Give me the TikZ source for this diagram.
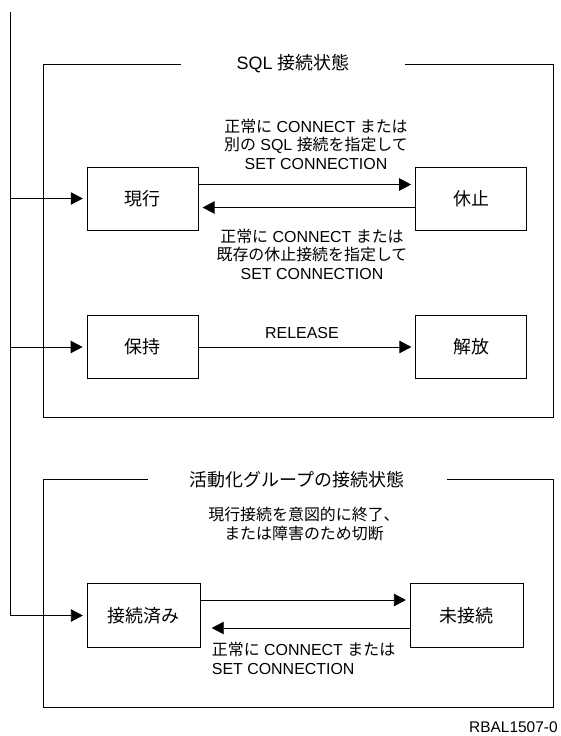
\documentclass[tikz,border=0pt]{standalone}
\usepackage{fontspec}
\setmainfont{Liberation Sans}
\newfontfamily\jfont{Noto Sans CJK JP}
\usetikzlibrary{arrows.meta}
\newcommand{\ja}[1]{{\jfont #1}}

\tikzset{
  statebox/.style={draw, minimum width=111bp, minimum height=63bp, inner sep=0pt,
    font=\fontsize{18}{21}\selectfont\jfont},
  trans/.style={-{Triangle[length=12bp,width=12.5bp]}, shorten >=4bp},
  lbl/.style={font=\fontsize{16}{18.5}\selectfont, align=center, inner sep=0pt},
  grouptitle/.style={fill=white, font=\fontsize{18}{21}\selectfont, inner sep=2bp},
}

\begin{document}
\begin{tikzpicture}[x=1bp, y=-1bp, line width=0.8bp]
    \useasboundingbox (0,0) rectangle (561,736);

    % SQL connection states
    \draw (43.3,64) rectangle (553.7,417.7);
    \node[grouptitle, minimum width=224bp] (sqltitle) at (293,64) {SQL \ja{接続状態}};
    \node[statebox] (genko) at (142.7,198.5) {現行};
    \node[statebox] (kyushi) at (471,198.5) {休止};
    \node[statebox] (hoji) at (142.5,347) {保持};
    \node[statebox] (kaiho) at (471.3,347) {解放};

    \draw[trans] ([yshift=14bp]genko.east) -- ([yshift=14bp]kyushi.west);
    \draw[trans] ([yshift=-9bp]kyushi.west) -- ([yshift=-9bp]genko.east);
    \draw[trans] (hoji) -- node[above=5bp, xshift=-5bp, font=\fontsize{16}{18.5}\selectfont]{RELEASE} (kaiho);

    \node[lbl] (tosleep) at (316,144) {\ja{正常に} CONNECT \ja{または}\\ \ja{別の} SQL \ja{接続を指定して}\\ SET CONNECTION};
    \node[lbl] (tocurrent) at (312,254) {\ja{正常に} CONNECT \ja{または}\\ \ja{既存の休止接続を指定して}\\ SET CONNECTION};

    % activation group states
    \draw (43.3,479.3) rectangle (553.7,707.7);
    \node[grouptitle, minimum width=299bp] (agtitle) at (297,479.3) {\ja{活動化グループの接続状態}};
    \node[statebox, minimum width=113bp, minimum height=64bp] (setsuzoku) at (143.8,615.5) {接続済み};
    \node[statebox, minimum width=113bp, minimum height=64bp] (misetsu) at (466.8,615.5) {未接続};

    \draw[trans] ([yshift=15.5bp]setsuzoku.east) -- ([yshift=15.5bp]misetsu.west);
    \draw[trans, shorten >=11bp] ([yshift=-12.5bp]misetsu.west) -- ([yshift=-12.5bp]setsuzoku.east);

    \node[lbl] (cut) at (304,524) {\ja{現行接続を意図的に終了、}\\ \ja{または障害のため切断}};
    \node[lbl, align=left, anchor=north west] (reconnect) at (211.5,642) {\ja{正常に} CONNECT \ja{または}\\ SET CONNECTION};

    % entry line
    \coordinate (bus) at (10.3,12);
    \draw[trans] (bus) |- (setsuzoku.west);
    \draw[trans] (bus |- genko.west) -- (genko.west);
    \draw[trans] (bus |- hoji.west) -- (hoji.west);

    \node[font=\fontsize{15.5}{18}\selectfont, anchor=base east, inner sep=0pt] (figid) at (558,732) {RBAL1507-0};
\end{tikzpicture}
\end{document}
